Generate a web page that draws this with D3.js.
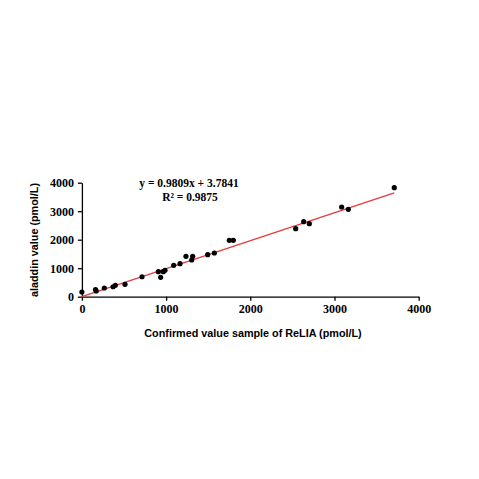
<!DOCTYPE html>
<html><head><meta charset="utf-8">
<script src="https://cdn.jsdelivr.net/npm/d3@7"></script>
<style>body{margin:0;background:#fff}</style>
</head><body>
<script>
const xVals = [0,162,170,266,370,397,512,714,908,935,967,987,1090,1165,1236,1304,1316,1494,1573,1751,1798,2539,2634,2701,3085,3164,3710];
const yVals = [165,250,200,305,350,400,435,700,877,680,877,926,1100,1160,1417,1288,1417,1474,1533,1979,1979,2386,2632,2561,3147,3066,3825];
const xTicks = [0,1000,2000,3000,4000];
const yTicks = [0,1000,2000,3000,4000];
const slope = 0.9809, intercept = 3.7841;
const fitRange = [0,3710];

const svg = d3.select("body").append("svg").attr("width",479).attr("height",479);
const x = d3.scaleLinear().domain([0,4000]).range([81.9,418.7]);
const y = d3.scaleLinear().domain([0,4000]).range([296.7,182.7]);

const xAxis = svg.append("g").attr("transform","translate(0,296.7)")
  .call(d3.axisBottom(x).tickValues(xTicks).tickFormat(d3.format("d")).tickSize(4).tickSizeOuter(0).tickPadding(4));
const yAxis = svg.append("g").attr("transform","translate(81.9,0)")
  .call(d3.axisLeft(y).tickValues(yTicks).tickFormat(d3.format("d")).tickSize(4).tickSizeOuter(0).tickPadding(4));
[xAxis,yAxis].forEach(a=>{
  a.selectAll("path,line").attr("stroke","#000").attr("stroke-width",1.3);
  a.selectAll("text").attr("font-family","'Liberation Serif', serif").attr("font-weight","bold").attr("font-size",12).attr("fill","#000");
});

svg.append("line")
  .attr("x1",x(fitRange[0])).attr("y1",y(slope*fitRange[0]+intercept))
  .attr("x2",x(fitRange[1])).attr("y2",y(slope*fitRange[1]+intercept))
  .attr("stroke","#e8393a").attr("stroke-width",1.2);

svg.append("g").selectAll("circle").data(xVals).join("circle")
  .attr("cx",(d)=>x(d)).attr("cy",(d,i)=>y(yVals[i])).attr("r",2.6).attr("fill","#000");

svg.append("text").attr("x",189).attr("y",187).attr("text-anchor","middle")
  .attr("font-family","'Liberation Serif', serif").attr("font-weight","bold").attr("font-size",11.5)
  .text("y = 0.9809x + 3.7841");
svg.append("text").attr("x",190).attr("y",201).attr("text-anchor","middle")
  .attr("font-family","'Liberation Serif', serif").attr("font-weight","bold").attr("font-size",11.5)
  .text("R² = 0.9875");

svg.append("text").attr("x",253).attr("y",337).attr("text-anchor","middle")
  .attr("font-family","'Liberation Sans', Arial, sans-serif").attr("font-weight","bold").attr("font-size",10.8)
  .text("Confirmed value sample of ReLIA (pmol/L)");
svg.append("text").attr("transform","translate(38,240) rotate(-90)").attr("text-anchor","middle")
  .attr("font-family","'Liberation Sans', Arial, sans-serif").attr("font-weight","bold").attr("font-size",10.8)
  .text("aladdin value (pmol/L)");
</script>
</body></html>
